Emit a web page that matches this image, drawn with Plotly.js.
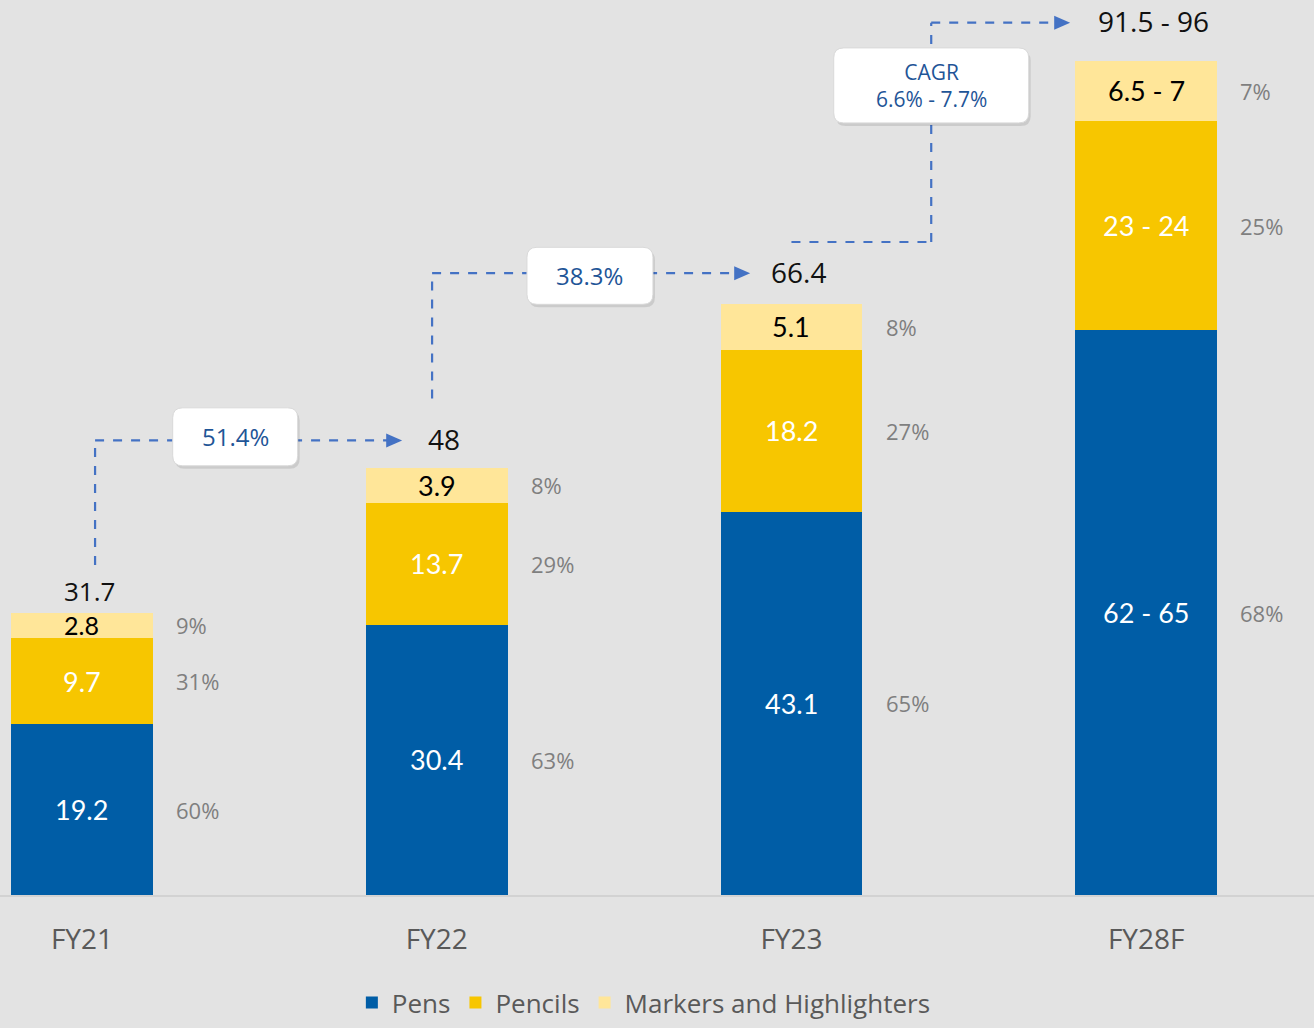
<!DOCTYPE html>
<html>
<head>
<meta charset="utf-8">
<script src="https://cdn.plot.ly/plotly-3.0.1.min.js"></script>
<style>
html,body{margin:0;padding:0;background:#e3e3e3;}
#chart{width:1314px;height:1028px;}
</style>
</head>
<body>
<div id="chart"></div>
<script>
// ---- data ----
const categories = ["FY21", "FY22", "FY23", "FY28F"];
const pens = [19.2, 30.4, 43.1, 63.5];
const pencils = [9.7, 13.7, 18.2, 23.5];
const markers = [2.8, 3.9, 5.1, 6.75];
const pensLabels = ["19.2", "30.4", "43.1", "62 - 65"];
const pencilsLabels = ["9.7", "13.7", "18.2", "23 - 24"];
const markersLabels = ["2.8", "3.9", "5.1", "6.5 - 7"];
const totals = [31.7, 48, 66.4, 93.75];
const totalLabels = ["31.7", "48", "66.4", "91.5 - 96"];
const pensShare = ["60%", "63%", "65%", "68%"];
const pencilsShare = ["31%", "29%", "27%", "25%"];
const markersShare = ["9%", "8%", "8%", "7%"];
const growthLabels = ["51.4%", "38.3%", "CAGR<br>6.6% - 7.7%"];

const C_PENS = "#005DA6", C_PENC = "#F7C600", C_MARK = "#FFE699";
const HAND = "Open Sans, Lato, sans-serif";
const LBL = "Lato, Open Sans, sans-serif";
const DASH = "#4472C4";

const traces = [
  {type:"bar", name:"Pens", x:categories, y:pens, marker:{color:C_PENS}, hoverinfo:"skip"},
  {type:"bar", name:"Pencils", x:categories, y:pencils, marker:{color:C_PENC}, hoverinfo:"skip"},
  {type:"bar", name:"Markers and Highlighters", x:categories, y:markers, marker:{color:C_MARK}, hoverinfo:"skip"}
];

const ann = [];
const shapes = [];
for (let i = 0; i < categories.length; i++) {
  const b1 = pens[i], b2 = pens[i] + pencils[i], b3 = b2 + markers[i];
  ann.push({x:i, y:b1/2, text:pensLabels[i], showarrow:false, font:{family:LBL, size:27, color:"#ffffff"}});
  ann.push({x:i, y:(b1+b2)/2, text:pencilsLabels[i], showarrow:false, font:{family:LBL, size:27, color:"#ffffff"}});
  ann.push({x:i, y:(b2+b3)/2, text:markersLabels[i], showarrow:false, font:{family:LBL, size:i===0?25:27, color:"#000000"}});
  ann.push({x:i+0.26, y:b1/2, text:pensShare[i], xanchor:"left", showarrow:false, font:{family:HAND, size:22, color:"#7f7f7f"}});
  ann.push({x:i+0.26, y:(b1+b2)/2, text:pencilsShare[i], xanchor:"left", showarrow:false, font:{family:HAND, size:22, color:"#7f7f7f"}});
  ann.push({x:i+0.26, y:(b2+b3)/2, text:markersShare[i], xanchor:"left", showarrow:false, font:{family:HAND, size:22, color:"#7f7f7f"}});
  ann.push({x:i+0.02, y:totals[i], text:totalLabels[i], yanchor:"bottom", yshift:[2,8,11,19][i], showarrow:false, font:{family:HAND, size:i===0?26:28, color:"#111111"}});
}

function dline(x0,y0,x1,y1){
  shapes.push({type:"line", xref:"x", yref:"y", x0:x0, y0:y0, x1:x1, y1:y1, line:{color:DASH, width:2.2, dash:"dash"}, layer:"above"});
}
function arrowHead(x,y){
  shapes.push({type:"path", xref:"x", yref:"y", xsizemode:"pixel", ysizemode:"pixel", xanchor:x, yanchor:y,
    path:"M-14,-7 L2,0 L-14,7 Z", fillcolor:DASH, line:{width:0}, layer:"above"});
}
function roundBox(x,y,w,h){
  const r = 10, x0=-w/2, x1=w/2, y0=-h/2, y1=h/2;
  const p = (dx,dy)=>`M${x0+r+dx},${y0+dy} L${x1-r+dx},${y0+dy} Q${x1+dx},${y0+dy} ${x1+dx},${y0+r+dy} L${x1+dx},${y1-r+dy} Q${x1+dx},${y1+dy} ${x1-r+dx},${y1+dy} L${x0+r+dx},${y1+dy} Q${x0+dx},${y1+dy} ${x0+dx},${y1-r+dy} L${x0+dx},${y0+r+dy} Q${x0+dx},${y0+dy} ${x0+r+dx},${y0+dy} Z`;
  shapes.push({type:"path", xref:"x", yref:"y", xsizemode:"pixel", ysizemode:"pixel", xanchor:x, yanchor:y,
    path:p(2,-3), fillcolor:"rgba(0,0,0,0.10)", line:{width:0}, layer:"above"});
  shapes.push({type:"path", xref:"x", yref:"y", xsizemode:"pixel", ysizemode:"pixel", xanchor:x, yanchor:y,
    path:p(0,0), fillcolor:"#ffffff", line:{color:"#d9d9d9", width:1}, layer:"above"});
}

// FY21 -> FY22
const yA = totals[1] + 3.1;
dline(0.037, totals[0] + 5.4, 0.037, yA);
dline(0.037, yA, 0.88, yA);
arrowHead(0.897, yA);
roundBox(0.432, yA + 0.4, 125, 58);
ann.push({x:0.432, y:yA + 0.4, text:growthLabels[0], showarrow:false, font:{family:HAND, size:24, color:"#1F5597"}});

// FY22 -> FY23
const yB = totals[2] + 3.5;
dline(0.987, totals[1] + 7.8, 0.987, yB);
dline(0.987, yB, 1.86, yB);
arrowHead(1.878, yB);
roundBox(1.432, yB - 0.3, 126, 57);
ann.push({x:1.432, y:yB - 0.3, text:growthLabels[1], showarrow:false, font:{family:HAND, size:24, color:"#1F5597"}});

// FY23 -> FY28F
const yC0 = totals[2] + 7.0, yC1 = totals[3] + 4.3;
dline(2.0, yC0, 2.394, yC0);
dline(2.394, yC0, 2.394, yC1);
dline(2.394, yC1, 2.76, yC1);
arrowHead(2.78, yC1);
roundBox(2.394, 91.0, 195, 75);
ann.push({x:2.394, y:91.0, text:growthLabels[2], showarrow:false, font:{family:HAND, size:21, color:"#1F5597"}});

const layout = {
  width:1314, height:1028,
  margin:{l:0, r:0, t:0, b:133, autoexpand:false},
  paper_bgcolor:"#e3e3e3", plot_bgcolor:"rgba(0,0,0,0)",
  barmode:"stack", bargap:0.6,
  xaxis:{type:"category", range:[-0.231, 3.473], showline:true, linecolor:"#d2d2d2", linewidth:2,
         ticks:"", ticklabelstandoff:18, tickfont:{family:HAND, size:28, color:"#595959"}, showgrid:false, fixedrange:true},
  yaxis:{range:[0, 100.6], visible:false, showgrid:false, zeroline:false, fixedrange:true},
  showlegend:true,
  legend:{orientation:"h", x:0.49, xanchor:"center", y:-0.094, yanchor:"top", bgcolor:"rgba(0,0,0,0)",
          font:{family:HAND, size:26, color:"#595959"}, traceorder:"normal", itemclick:false, itemwidth:30},
  annotations:ann, shapes:shapes
};

Plotly.newPlot("chart", traces, layout, {displayModeBar:false, staticPlot:true});
</script>
</body>
</html>
